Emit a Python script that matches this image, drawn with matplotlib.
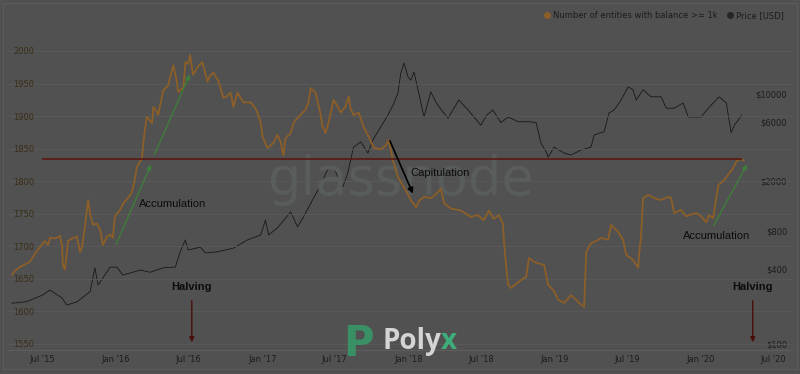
import matplotlib
matplotlib.use("Agg")
import matplotlib.pyplot as plt
import matplotlib.dates as mdates
import matplotlib.ticker as mticker
from matplotlib.lines import Line2D
from matplotlib.patches import Rectangle
import pandas as pd

# ---------------- data ----------------
ent_dates = [
    "2015-04-17", "2015-04-24", "2015-05-06", "2015-05-19", "2015-05-31", "2015-06-13", "2015-06-26",
    "2015-07-08", "2015-07-16", "2015-07-21", "2015-08-02", "2015-08-10", "2015-08-15", "2015-08-20",
    "2015-08-22", "2015-08-27", "2015-09-04", "2015-09-14", "2015-09-26", "2015-10-04", "2015-10-09",
    "2015-10-16", "2015-10-24", "2015-10-29", "2015-11-05", "2015-11-15", "2015-11-23", "2015-11-30",
    "2015-12-10", "2015-12-18", "2015-12-25", "2015-12-30", "2016-01-11", "2016-01-22", "2016-01-29",
    "2016-02-05", "2016-02-10", "2016-02-16", "2016-02-23", "2016-03-02", "2016-03-07", "2016-03-09",
    "2016-03-14", "2016-03-19", "2016-03-27", "2016-04-01", "2016-04-04", "2016-04-11", "2016-04-16",
    "2016-04-29", "2016-05-11", "2016-05-16", "2016-05-24", "2016-06-01", "2016-06-05", "2016-06-18",
    "2016-06-23", "2016-06-30", "2016-07-05", "2016-07-12", "2016-07-23", "2016-08-04", "2016-08-12",
    "2016-08-17", "2016-08-24", "2016-09-01", "2016-09-14", "2016-09-26", "2016-10-04", "2016-10-14",
    "2016-10-21", "2016-10-31", "2016-11-15", "2016-12-03", "2016-12-15", "2016-12-20", "2016-12-28",
    "2017-01-02", "2017-01-14", "2017-01-22", "2017-01-29", "2017-02-08", "2017-02-16", "2017-02-23",
    "2017-02-28", "2017-03-13", "2017-03-20", "2017-03-27", "2017-04-07", "2017-04-19", "2017-04-26",
    "2017-05-02", "2017-05-14", "2017-05-27", "2017-05-31", "2017-06-08", "2017-06-16", "2017-06-28",
    "2017-07-08", "2017-07-16", "2017-07-28", "2017-08-05", "2017-08-10", "2017-08-17", "2017-08-30",
    "2017-09-12", "2017-09-24", "2017-10-07", "2017-10-24", "2017-11-06", "2017-11-13", "2017-11-23",
    "2017-12-06", "2017-12-21", "2018-01-07", "2018-01-20", "2018-01-28", "2018-02-09", "2018-02-26",
    "2018-03-11", "2018-03-23", "2018-03-31", "2018-04-17", "2018-05-12", "2018-05-25", "2018-06-06",
    "2018-06-23", "2018-07-08", "2018-07-21", "2018-08-02", "2018-08-15", "2018-08-25", "2018-08-28",
    "2018-09-02", "2018-09-07", "2018-09-14", "2018-10-02", "2018-10-22", "2018-10-29", "2018-11-11",
    "2018-11-21", "2018-12-06", "2018-12-16", "2018-12-31", "2019-01-10", "2019-01-25", "2019-02-11",
    "2019-02-24", "2019-03-03", "2019-03-16", "2019-03-21", "2019-04-02", "2019-04-15", "2019-04-27",
    "2019-05-15", "2019-05-22", "2019-06-09", "2019-06-21", "2019-06-29", "2019-07-16", "2019-07-29",
    "2019-07-31", "2019-08-05", "2019-08-10", "2019-08-23", "2019-09-07", "2019-09-24", "2019-10-12",
    "2019-10-19", "2019-10-27", "2019-11-13", "2019-11-26", "2019-12-08", "2019-12-21", "2020-01-02",
    "2020-01-15", "2020-01-22", "2020-02-01", "2020-02-09", "2020-02-14", "2020-02-29", "2020-03-12",
    "2020-03-22", "2020-03-30", "2020-04-07", "2020-04-17",
]
ent_values = [
    1656, 1662, 1668, 1672, 1676, 1688, 1699,
    1708, 1702, 1713, 1712, 1714, 1716, 1700,
    1671, 1664, 1708, 1712, 1715, 1691, 1699,
    1730, 1771, 1750, 1733, 1735, 1726, 1702,
    1715, 1718, 1713, 1746, 1755, 1768, 1772,
    1778, 1783, 1797, 1822, 1830, 1837, 1853,
    1880, 1899, 1893, 1889, 1914, 1908, 1902,
    1940, 1947, 1960, 1978, 1955, 1937, 1944,
    1983, 1980, 1994, 1963, 1975, 1983, 1965,
    1953, 1962, 1967, 1953, 1928, 1930, 1936,
    1914, 1936, 1921, 1921, 1912, 1905, 1890,
    1868, 1851, 1855, 1859, 1871, 1860, 1840,
    1866, 1874, 1889, 1895, 1902, 1910, 1920,
    1943, 1936, 1902, 1885, 1874, 1891, 1925,
    1915, 1905, 1915, 1930, 1910, 1902, 1905,
    1882, 1868, 1851, 1849, 1855, 1863, 1833,
    1806, 1791, 1771, 1760, 1770, 1776, 1774,
    1780, 1789, 1766, 1758, 1755, 1750, 1745,
    1748, 1740, 1755, 1742, 1748, 1735, 1705,
    1670, 1641, 1636, 1645, 1653, 1682, 1676,
    1674, 1671, 1641, 1631, 1618, 1613, 1625,
    1618, 1613, 1607, 1691, 1705, 1708, 1713,
    1710, 1733, 1722, 1710, 1687, 1679, 1667,
    1687, 1715, 1774, 1779, 1774, 1771, 1776,
    1774, 1751, 1756, 1746, 1749, 1751, 1746,
    1737, 1748, 1743, 1774, 1794, 1802, 1812,
    1820, 1830, 1834, 1832,
]

price_dates = [
    "2015-04-17", "2015-05-24", "2015-07-03", "2015-07-21", "2015-08-20", "2015-09-01", "2015-09-26",
    "2015-10-29", "2015-11-10", "2015-11-18", "2015-11-30", "2015-12-18", "2016-01-04", "2016-01-19",
    "2016-02-05", "2016-03-02", "2016-03-27", "2016-04-29", "2016-05-29", "2016-06-10", "2016-06-23",
    "2016-06-30", "2016-07-30", "2016-08-12", "2016-09-11", "2016-10-21", "2016-11-25", "2016-12-28",
    "2017-01-09", "2017-01-17", "2017-02-08", "2017-03-13", "2017-03-30", "2017-04-14", "2017-05-09",
    "2017-05-27", "2017-06-16", "2017-06-28", "2017-07-21", "2017-08-02", "2017-08-17", "2017-09-04",
    "2017-09-22", "2017-10-04", "2017-10-24", "2017-11-11", "2017-11-26", "2017-12-06", "2017-12-13",
    "2017-12-21", "2017-12-31", "2018-01-07", "2018-01-15", "2018-01-25", "2018-02-09", "2018-02-26",
    "2018-03-08", "2018-03-18", "2018-04-10", "2018-04-22", "2018-05-07", "2018-05-30", "2018-07-01",
    "2018-07-16", "2018-07-31", "2018-08-20", "2018-09-07", "2018-10-02", "2018-10-29", "2018-11-16",
    "2018-11-28", "2018-12-11", "2018-12-16", "2018-12-31", "2019-01-25", "2019-02-11", "2019-03-08",
    "2019-04-02", "2019-04-10", "2019-05-05", "2019-05-17", "2019-05-30", "2019-06-16", "2019-07-04",
    "2019-07-16", "2019-07-24", "2019-08-10", "2019-08-30", "2019-09-24", "2019-10-07", "2019-10-27",
    "2019-11-18", "2019-12-01", "2020-01-02", "2020-01-20", "2020-02-16", "2020-03-05", "2020-03-17",
    "2020-03-25", "2020-04-04", "2020-04-12",
]
price_values = [
    212, 218, 247, 270, 233, 205, 217,
    262, 407, 296, 337, 412, 412, 356,
    369, 390, 375, 407, 412, 546, 680,
    565, 595, 535, 546, 585, 680, 745,
    980, 745, 850, 1140, 865, 1040, 1470,
    1870, 2600, 2600, 1800, 2300, 3760, 4130,
    3370, 4280, 5450, 6800, 8470, 10200, 14700,
    17700, 13700, 12900, 15000, 10800, 6550, 10400,
    8950, 7900, 6400, 7450, 8950, 7450, 5630,
    6800, 7450, 5900, 6550, 6000, 6000, 5900,
    4050, 3440, 3130, 3760, 3370, 3250, 3560,
    3760, 4700, 5000, 7050, 7450, 8950, 11400,
    10800, 8950, 10800, 9500, 9500, 7700, 7700,
    8470, 6550, 6550, 7700, 9500, 8470, 4900,
    5630, 6200, 6800,
]

threshold_level = 1834
threshold_span = ["2015-07-01", "2020-04-12"]
halving_dates = ["2016-07-09", "2020-05-10"]

left_ticks = [1550, 1600, 1650, 1700, 1750, 1800, 1850, 1900, 1950, 2000]
right_ticks = [100, 400, 800, 2000, 6000, 10000]
right_tick_labels = ["$100", "$400", "$800", "$2000", "$6000", "$10000"]
series_labels = ["Number of entities with balance >= 1k", "Price [USD]"]

# ---------------- style ----------------
BG = "#515151"
ORANGE = "#8c5f28"
DARK = "#1c1c1c"
GREEN = "#3f7d3a"
MAROON = "#5a1812"
W, H = 800, 374

fig = plt.figure(figsize=(8, 3.74), dpi=100, facecolor=BG)
ax = fig.add_axes([8 / W, (H - 350) / H, 784 / W, 347 / H])
ax.set_facecolor(BG)
ax2 = ax.twinx()

ed = pd.to_datetime(ent_dates)
pdts = pd.to_datetime(price_dates)

ax2.plot(pdts, price_values, color="#181818", lw=0.6, zorder=2)
ax2.set_yscale("log")
ax2.set_ylim(89.5, 53460)
ax.plot(ed, ent_values, color=ORANGE, lw=1.3, zorder=3)
ax.set_ylim(1540.7, 2073.7)
ax.set_xlim(pd.Timestamp("2015-04-07"), pd.Timestamp("2020-08-16"))

# put left axis on top of twin
ax.set_zorder(ax2.get_zorder() + 1)
ax.patch.set_visible(False)
ax2.patch.set_visible(True)
ax2.patch.set_facecolor(BG)

# grid
ax.set_yticks(left_ticks)
ax.grid(axis="y", color="#5a5a5a", lw=0.6)
ax.grid(axis="x", visible=False)

# ticks
ax.xaxis.set_major_locator(mdates.MonthLocator(bymonth=[1, 7]))
ax.xaxis.set_major_formatter(mdates.DateFormatter("%b '%y"))
ax.tick_params(axis="x", length=0, pad=3.6, labelsize=6, labelcolor=DARK)
ax.tick_params(axis="y", length=0, pad=-26 / 1.389, labelsize=6, labelcolor="#3a2d17")

ax2.yaxis.set_major_locator(mticker.FixedLocator(right_ticks))
ax2.yaxis.set_major_formatter(mticker.FixedFormatter(right_tick_labels))
ax2.yaxis.set_minor_locator(mticker.NullLocator())
ax2.tick_params(axis="y", length=0, pad=-5 / 1.389, labelsize=6, labelcolor=DARK)
for lab in ax2.get_yticklabels():
    lab.set_horizontalalignment("right")

for a in (ax, ax2):
    for s in ("left", "right", "top"):
        a.spines[s].set_visible(False)
    a.spines["bottom"].set_color("#5e5e5e")
    a.spines["bottom"].set_linewidth(0.8)

# threshold line
ax.hlines(threshold_level, pd.Timestamp(threshold_span[0]), pd.Timestamp(threshold_span[1]),
          color=MAROON, lw=1.2, zorder=4)

# watermark glassnode
ax.text(0.5, 0.4467, "glassnode", transform=ax.transAxes, ha="center", va="baseline",
        fontsize=38, color="#585c5a", zorder=1, family="DejaVu Sans")

# annotations
def T(s):
    return mdates.date2num(pd.Timestamp(s))

arrow_kw = dict(arrowstyle="-|>", mutation_scale=7, lw=1.0)
ax.annotate("", xy=(T("2016-04-01"), 1829.5), xytext=(T("2015-12-30"), 1699),
            arrowprops=dict(color=GREEN, **arrow_kw), zorder=5)
ax.annotate("", xy=(T("2016-07-07"), 1968), xytext=(T("2016-04-04"), 1837),
            arrowprops=dict(color=GREEN, **arrow_kw), zorder=5)
ax.annotate("", xy=(T("2020-04-29"), 1829.5), xytext=(T("2020-01-30"), 1728),
            arrowprops=dict(color=GREEN, **arrow_kw), zorder=5)
ax.annotate("", xy=(T("2018-01-15"), 1777), xytext=(T("2017-11-13"), 1866),
            arrowprops=dict(color="#000000", arrowstyle="-|>", mutation_scale=8, lw=1.2), zorder=5)

txt_kw = dict(ha="center", va="center", fontsize=8, color="#0c0c0c", family="Liberation Sans", zorder=6)
ax.text(T("2016-05-21"), 1765, "Accumulation", **txt_kw)
ax.text(T("2018-03-20"), 1812.6, "Capitulation", **txt_kw)
ax.text(T("2020-02-09"), 1716, "Accumulation", **txt_kw)

for hd in halving_dates:
    ax.text(T(hd), 1637.5, "Halving", ha="center", va="center", fontsize=8, fontweight="bold",
            color="#0c0c0c", family="Liberation Sans", zorder=6)
    ax.annotate("", xy=(T(hd), 1548.4), xytext=(T(hd), 1620.6),
                arrowprops=dict(color="#4a0e0a", arrowstyle="-|>", mutation_scale=7, lw=1.0), zorder=5)

# legend
handles = [Line2D([], [], marker="o", ls="", color=ORANGE, markersize=4),
           Line2D([], [], marker="o", ls="", color="#262626", markersize=4)]
leg = ax.legend(handles, series_labels, loc="center right", bbox_to_anchor=(0.9936, 0.965),
                ncol=2, frameon=False, fontsize=6, handletextpad=0.2, columnspacing=1.0,
                handlelength=1.0, borderaxespad=0, labelcolor=DARK)

# Polyx watermark
fig.text(343 / W, (H - 356) / H, "P", fontsize=30, fontweight="bold", color="#389868",
         family="DejaVu Sans", ha="left", va="baseline", alpha=0.9)
fig.text(441 / W, (H - 349) / H, "Poly", fontsize=20, fontweight="bold", color="#d4d4d4",
         family="Open Sans", ha="right", va="baseline")
fig.text(441 / W, (H - 349) / H, "x", fontsize=20, fontweight="bold", color="#3dae7b",
         family="Open Sans", ha="left", va="baseline")

# outer frame
fig.patches.append(Rectangle((3 / W, (H - 369) / H), 794 / W, 366 / H, transform=fig.transFigure,
                             fill=False, edgecolor="#5c5c5c", lw=0.8))

fig.savefig("out.png", dpi=100, facecolor=BG)
